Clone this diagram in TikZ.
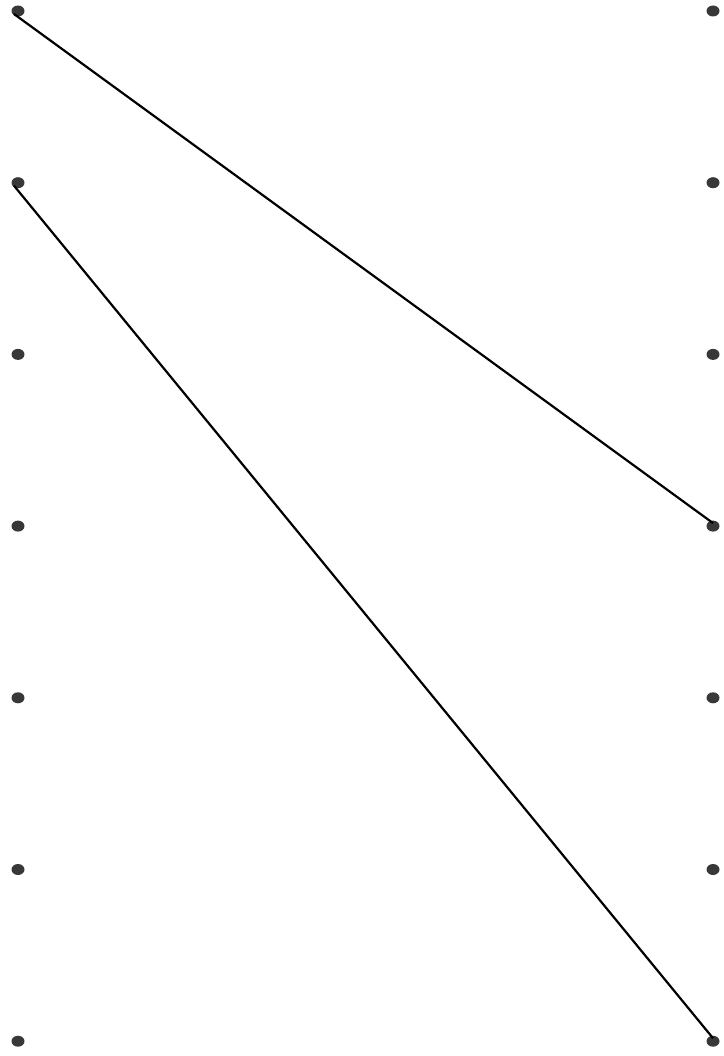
\documentclass[tikz,border=0pt]{standalone}
\usetikzlibrary{shapes.geometric}

\begin{document}
\begin{tikzpicture}[
  x=1pt, y=-1pt,
  dot/.style ={draw=none, ellipse, fill=black!78, minimum width=13pt, minimum height=11pt, inner sep=0pt},
  lnk/.style ={line width=2.2pt, black},
]
\useasboundingbox (0,0) rectangle (723,1056);

%% ---------------- two columns of dots ----------------
\foreach \i in {1,...,7}{
  \node[dot] (l\i) at (18, 11+\i*171.7-171.7) {};
  \node[dot] (r\i) at (713, 11+\i*171.7-171.7) {};
}

%% ---------------- links ----------------
\draw[lnk] (l1.center) ++(-4,3) coordinate (s1) -- ([yshift=3pt]r4.center);
\draw[lnk] (l2.center) ++(-4,3) coordinate (s2) -- ([yshift=3pt]r7.center);

\end{tikzpicture}
\end{document}
